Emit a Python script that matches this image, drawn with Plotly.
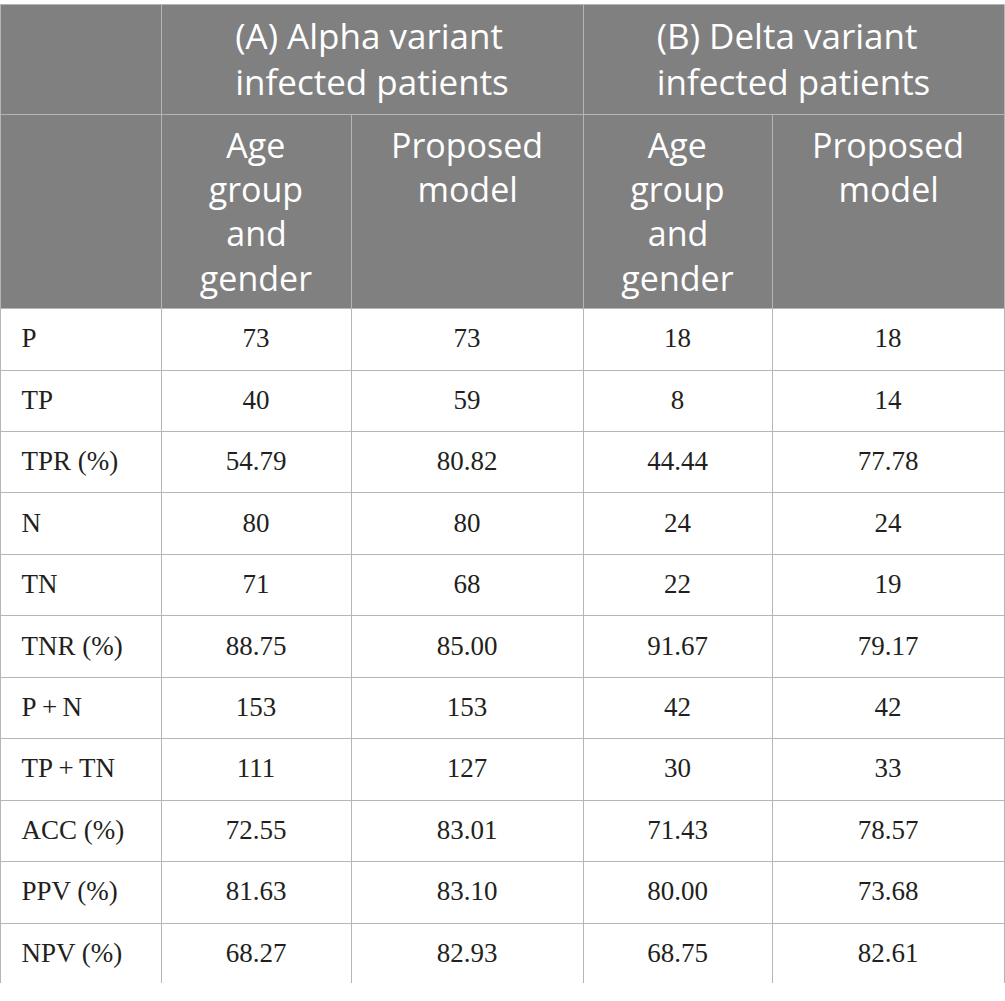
import plotly.graph_objects as go

# table content
nb = "\u00a0"
group_titles = ["", "(A) Alpha variant<br>infected patients", "(B) Delta variant<br>infected patients"]
age_label = nb * 3 + "Age<br>" + nb + "group<br>" + nb * 3 + "and<br>gender"
model_label = "Proposed<br>" + nb * 3 + "model"
sub_titles = ["", age_label, model_label, age_label, model_label]

metrics = ["P", "TP", "TPR (%)", "N", "TN", "TNR (%)", "P\u2009+\u2009N", "TP\u2009+\u2009TN", "ACC (%)", "PPV (%)", "NPV (%)"]
alpha_age = ["73", "40", "54.79", "80", "71", "88.75", "153", "111", "72.55", "81.63", "68.27"]
alpha_model = ["73", "59", "80.82", "80", "68", "85.00", "153", "127", "83.01", "83.10", "82.93"]
delta_age = ["18", "8", "44.44", "24", "22", "91.67", "42", "30", "71.43", "80.00", "68.75"]
delta_model = ["18", "14", "77.78", "24", "19", "79.17", "42", "33", "78.57", "73.68", "82.61"]

head_col = "#808080"
line_col = "#b5b5b5"
clear = "rgba(0,0,0,0)"
group_font = dict(family="Open Sans", size=35, color="white")
head_font = dict(family="Open Sans", size=34, color="white")
body_font = dict(family="Liberation Serif", size=27, color="#231f20")

H = 997          # plot area height in px
top_h = 110      # spanning header row
main_h = 869     # sub header + body rows
shift = 12       # push body text down to the middle of the rows

widths = [161, 190, 232, 189, 232]
row_h = 61.45

fig = go.Figure()

# spanning group header row (its extra row is hidden under the main table)
fig.add_trace(go.Table(
    domain=dict(x=[0, 1], y=[1 - (top_h + 30) / H, 1]),
    columnwidth=[161, 422, 421],
    header=dict(values=group_titles, fill_color=head_col, font=group_font,
                line=dict(color=line_col, width=1), align="center", height=top_h),
    cells=dict(values=[[""] for _ in group_titles], fill_color=head_col,
               line=dict(color=head_col, width=1), height=20),
))

# grid: sub headers and empty body cells
fig.add_trace(go.Table(
    domain=dict(x=[0, 1], y=[(H - top_h - main_h) / H, 1 - top_h / H]),
    columnwidth=widths,
    header=dict(values=sub_titles, fill_color=head_col, font=head_font,
                line=dict(color=line_col, width=1), align="center", height=193),
    cells=dict(values=[[""] * len(metrics) for _ in widths],
               fill_color="white", line=dict(color=line_col, width=1), height=row_h),
))

# values, laid over the grid
fig.add_trace(go.Table(
    domain=dict(x=[0, 1], y=[(H - top_h - main_h - shift) / H, 1 - (top_h + shift) / H]),
    columnwidth=widths,
    header=dict(values=[""] * len(widths), fill_color=clear,
                line=dict(color=clear, width=0), height=193),
    cells=dict(values=[[nb * 2 + m for m in metrics], alpha_age, alpha_model, delta_age, delta_model],
               fill_color=clear, font=body_font, line=dict(color=clear, width=0),
               align=["left", "center", "center", "center", "center"], height=row_h),
))

fig.update_layout(width=1005, height=1001, margin=dict(l=0, r=1, t=4, b=0),
                  paper_bgcolor="white")
fig.write_html("out.html", config={"displayModeBar": False},
               post_script="document.body.style.margin='0';")
